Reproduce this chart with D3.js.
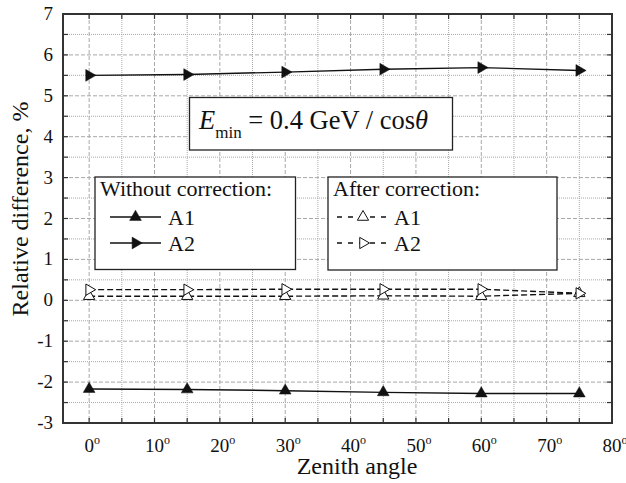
<!DOCTYPE html>
<html>
<head>
<meta charset="utf-8">
<script src="https://cdn.jsdelivr.net/npm/d3@7"></script>
<style>
  html, body { margin: 0; padding: 0; background: #fff; }
  svg text { font-family: "Liberation Serif", "DejaVu Serif", serif; }
</style>
</head>
<body>
<svg id="chart" width="626" height="483"></svg>
<script>
// Zenith angles (degrees) and relative differences (%)
const angles = [0, 15, 30, 45, 60, 75];
const a1Without = [-2.17, -2.18, -2.21, -2.25, -2.28, -2.28];
const a2Without = [5.50, 5.52, 5.58, 5.65, 5.69, 5.62];
const a1After = [0.10, 0.10, 0.10, 0.11, 0.10, 0.17];
const a2After = [0.26, 0.26, 0.27, 0.27, 0.27, 0.17];

const xMajorTicks = [0, 10, 20, 30, 40, 50, 60, 70, 80];
const xMinorTicks = [5, 15, 25, 35, 45, 55, 65, 75];
const yMajorTicks = [-3, -2, -1, 0, 1, 2, 3, 4, 5, 6, 7];
const yMinorTicks = [-2.5, -1.5, -0.5, 0.5, 1.5, 2.5, 3.5, 4.5, 5.5, 6.5];

const svg = d3.select("#chart");
const plot = { left: 63, right: 612, top: 14, bottom: 423 };

const x = d3.scaleLinear().domain([-4, 80]).range([plot.left, plot.right]);
const y = d3.scaleLinear().domain([-3, 7]).range([plot.bottom, plot.top]);

const gridColor = "#a8a8a8";
const axisColor = "#333";
const ink = "#111";

// grid: dashed at major ticks, dotted at minor ticks
const grid = svg.append("g");
grid.selectAll(".vmaj").data(xMajorTicks.filter(d => d > -4 && d < 80)).join("line")
  .attr("x1", d => x(d)).attr("x2", d => x(d)).attr("y1", plot.top).attr("y2", plot.bottom)
  .attr("stroke", gridColor).attr("stroke-width", 1).attr("stroke-dasharray", "4,2");
grid.selectAll(".vmin").data(xMinorTicks).join("line")
  .attr("x1", d => x(d)).attr("x2", d => x(d)).attr("y1", plot.top).attr("y2", plot.bottom)
  .attr("stroke", gridColor).attr("stroke-width", 1).attr("stroke-dasharray", "1,1");
grid.selectAll(".hmaj").data(yMajorTicks.filter(d => d > -3 && d < 7)).join("line")
  .attr("y1", d => y(d)).attr("y2", d => y(d)).attr("x1", plot.left).attr("x2", plot.right)
  .attr("stroke", gridColor).attr("stroke-width", 1).attr("stroke-dasharray", "4,2");
grid.selectAll(".hmin").data(yMinorTicks).join("line")
  .attr("y1", d => y(d)).attr("y2", d => y(d)).attr("x1", plot.left).attr("x2", plot.right)
  .attr("stroke", gridColor).attr("stroke-width", 1).attr("stroke-dasharray", "1,1");

// Text box with threshold energy
const eb = svg.append("g");
eb.append("rect").attr("x", 189.5).attr("y", 97.5).attr("width", 263).attr("height", 52.5)
  .attr("fill", "#fff").attr("stroke", "#222").attr("stroke-width", 1.3);
const et = eb.append("text").attr("x", 199).attr("y", 129).attr("font-size", 26.5).attr("fill", ink);
et.append("tspan").attr("font-style", "italic").text("E");
et.append("tspan").attr("font-size", 17).attr("dy", 9).text("min");
et.append("tspan").attr("dy", -9).text(" = 0.4 GeV / cos");
et.append("tspan").attr("font-style", "italic").text("θ");

function drawMarker(g, cx, cy, shape, filled) {
  g.append("path")
    .attr("d", d3.symbol().type(d3.symbolTriangle).size(filled ? 60 : 55)())
    .attr("transform", `translate(${cx},${cy}) rotate(${shape === "right" ? 90 : 0})`)
    .attr("fill", filled ? ink : "#fff")
    .attr("stroke", ink).attr("stroke-width", filled ? 0.5 : 1);
}

// Legend boxes
function legendBox(x0, y0, w, h, title, entries) {
  const g = svg.append("g");
  g.append("rect").attr("x", x0).attr("y", y0).attr("width", w).attr("height", h)
    .attr("fill", "#fff").attr("stroke", "#222").attr("stroke-width", 1.3);
  g.append("text").attr("x", x0 + 5).attr("y", y0 + 19).attr("font-size", 22)
    .attr("fill", ink).text(title);
  entries.forEach((e, i) => {
    const ly = y0 + 40 + i * 26;
    g.append("line").attr("x1", x0 + e.lx0).attr("x2", x0 + e.lx1).attr("y1", ly).attr("y2", ly)
      .attr("stroke", ink).attr("stroke-width", 1.3).attr("stroke-dasharray", e.dash || null);
    drawMarker(g, x0 + (e.lx0 + e.lx1) / 2, ly, e.shape, e.filled);
    g.append("text").attr("x", x0 + e.tx).attr("y", ly + 7.5).attr("font-size", 22)
      .attr("fill", ink).text(e.label);
  });
}

// data series
const series = [
  { vals: a1After, shape: "up", filled: false, dash: "6,3" },
  { vals: a2After, shape: "right", filled: false, dash: "6,3" },
  { vals: a1Without, shape: "up", filled: true, dash: null },
  { vals: a2Without, shape: "right", filled: true, dash: null }
];
const line = d3.line().x(d => x(d[0])).y(d => y(d[1]));
const dataG = svg.append("g");
series.forEach(s => {
  const pts = angles.map((a, i) => [a, s.vals[i]]);
  dataG.append("path").attr("d", line(pts)).attr("fill", "none")
    .attr("stroke", ink).attr("stroke-width", 1.4).attr("stroke-dasharray", s.dash);
  pts.forEach(p => drawMarker(dataG, x(p[0]), y(p[1]), s.shape, s.filled));
});

legendBox(95, 177, 200.5, 92.5, "Without correction:", [
  { lx0: 15, lx1: 66, tx: 73, label: "A1", shape: "up", filled: true },
  { lx0: 15, lx1: 66, tx: 73, label: "A2", shape: "right", filled: true }
]);
legendBox(328, 177, 229, 93, "After correction:", [
  { lx0: 9, lx1: 61, tx: 66, label: "A1", shape: "up", filled: false, dash: "5,6" },
  { lx0: 9, lx1: 61, tx: 66, label: "A2", shape: "right", filled: false, dash: "5,6" }
]);

// axes frame with inward ticks
const axG = svg.append("g");
const allX = xMajorTicks.concat(xMinorTicks).filter(d => d > -4 && d < 80);
const allY = yMajorTicks.concat(yMinorTicks).filter(d => d > -3 && d < 7);
allX.forEach(d => {
  axG.append("line").attr("x1", x(d)).attr("x2", x(d)).attr("y1", plot.bottom).attr("y2", plot.bottom - 5)
    .attr("stroke", axisColor).attr("stroke-width", 1.2);
  axG.append("line").attr("x1", x(d)).attr("x2", x(d)).attr("y1", plot.top).attr("y2", plot.top + 5)
    .attr("stroke", axisColor).attr("stroke-width", 1.2);
});
allY.forEach(d => {
  axG.append("line").attr("y1", y(d)).attr("y2", y(d)).attr("x1", plot.left).attr("x2", plot.left + 5)
    .attr("stroke", axisColor).attr("stroke-width", 1.2);
  axG.append("line").attr("y1", y(d)).attr("y2", y(d)).attr("x1", plot.right).attr("x2", plot.right - 5)
    .attr("stroke", axisColor).attr("stroke-width", 1.2);
});
axG.append("rect").attr("x", plot.left).attr("y", plot.top)
  .attr("width", plot.right - plot.left).attr("height", plot.bottom - plot.top)
  .attr("fill", "none").attr("stroke", axisColor).attr("stroke-width", 2);

// tick labels
svg.append("g").selectAll("text").data(yMajorTicks).join("text")
  .attr("x", 53).attr("y", d => y(d) + 6).attr("text-anchor", "end")
  .attr("font-size", 19).attr("fill", ink).text(d => String(d));

const xl = svg.append("g").selectAll("text").data(xMajorTicks).join("text")
  .attr("x", d => x(d) + 3).attr("y", 452).attr("text-anchor", "middle")
  .attr("font-size", 19).attr("fill", ink);
xl.append("tspan").text(d => String(d));
xl.append("tspan").attr("font-size", 12).attr("dy", -8).text("o");

// axis titles
svg.append("text").attr("x", 357).attr("y", 474).attr("text-anchor", "middle")
  .attr("font-size", 24).attr("fill", ink).text("Zenith angle");
svg.append("text").attr("transform", "translate(28,209) rotate(-90)")
  .attr("text-anchor", "middle").attr("font-size", 24)
  .attr("fill", ink).text("Relative difference, %");
</script>
</body>
</html>
